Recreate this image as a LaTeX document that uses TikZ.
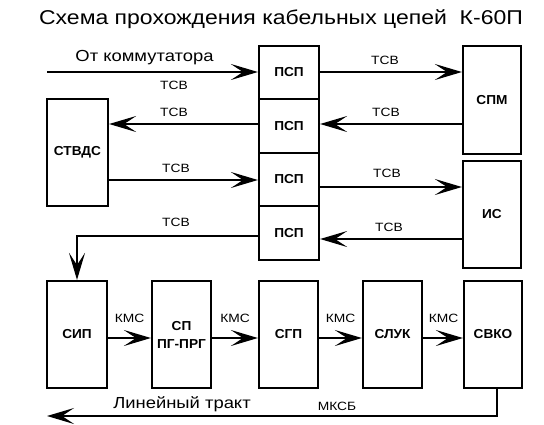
\documentclass[tikz,border=0pt]{standalone}
\usepackage{fontspec}
\setmainfont[FakeStretch=1.15]{Liberation Sans}
\newfontfamily\boxfont[FakeStretch=1.05]{Liberation Sans}
\usetikzlibrary{arrows.meta}
\begin{document}
\begin{tikzpicture}[x=1pt,y=-1pt,
  blk/.style={draw,line width=2.2pt,inner sep=0pt,font=\boxfont\bfseries\fontsize{13}{14}\selectfont,align=center},
  lbl/.style={font=\fontsize{12}{13}\selectfont,inner sep=0pt},
  big/.style={font=\fontsize{16}{17}\selectfont,inner sep=0pt},
  conn/.style={line width=2.4pt,-{Stealth[length=27pt,width=16pt,inset=12pt]}}]
\useasboundingbox (0,0) rectangle (544,424);
\node[font=\fontsize{20}{22}\selectfont,inner sep=0pt] (title) at (281,19) {Схема прохождения кабельных цепей\ \ К-60П};
% PSP column
\node[blk,minimum width=60pt,minimum height=53pt] (p1) at (289,72.5) {ПСП};
\node[blk,minimum width=60pt,minimum height=54pt] (p2) at (289,126) {ПСП};
\node[blk,minimum width=60pt,minimum height=53pt] (p3) at (289,179.5) {ПСП};
\node[blk,minimum width=60pt,minimum height=54pt] (p4) at (289,233) {ПСП};
\node[blk,minimum width=58pt,minimum height=108pt] (spm) at (492,100) {СПМ};
\node[blk,minimum width=58pt,minimum height=107pt] (is) at (492,214.5) {ИС};
\node[blk,minimum width=61pt,minimum height=107pt] (stv) at (77.5,152.5) {СТВДС};
% bottom row
\node[blk,minimum width=60pt,minimum height=107pt] (sip) at (77,334.5) {СИП};
\node[blk,minimum width=59pt,minimum height=107pt] (sp) at (181.5,334.5) {СП\\[4pt]ПГ-ПРГ};
\node[blk,minimum width=59pt,minimum height=107pt] (sgp) at (288.5,334.5) {СГП};
\node[blk,minimum width=59pt,minimum height=107pt] (sluk) at (392.5,334.5) {СЛУК};
\node[blk,minimum width=58pt,minimum height=107pt] (svko) at (493,334.5) {СВКО};
% labels
\node[big] (lk) at (144.5,58) {От коммутатора};
\node[lbl] (t1) at (174,85) {ТСВ};
\node[lbl] (t2) at (385,60) {ТСВ};
\node[lbl] (t3) at (174,112) {ТСВ};
\node[lbl] (t4) at (386,112) {ТСВ};
\node[lbl] (t5) at (176,168) {ТСВ};
\node[lbl] (t6) at (387,173) {ТСВ};
\node[lbl] (t7) at (176,222) {ТСВ};
\node[lbl] (t8) at (389,227) {ТСВ};
\node[lbl] (k1) at (129.5,318) {КМС};
\node[lbl] (k2) at (235,318) {КМС};
\node[lbl] (k3) at (340.5,318) {КМС};
\node[lbl] (k4) at (443.5,318) {КМС};
\node[big] (lt) at (182,404) {Линейный тракт};
\node[lbl] (mk) at (337,406) {МКСБ};
% connectors
\coordinate (in) at (47,72);
\draw[conn] (in) -- (in -| p1.west);
\draw[conn] (p1.east |- 0,72) -- (spm.west |- 0,72);
\draw[conn] (spm.west |- 0,124) -- (p2.east |- 0,124);
\draw[conn] (p2.west |- 0,124) -- (stv.east |- 0,124);
\draw[conn] (stv.east |- 0,180) -- (p3.west |- 0,180);
\draw[conn] (p3.east |- 0,187) -- (is.west |- 0,187);
\draw[conn] (is.west |- 0,239) -- (p4.east |- 0,239);
\draw[conn] (p4.west |- 0,236) -| (sip.north);
\draw[conn] (sip.east |- 0,338) -- (sp.west |- 0,338);
\draw[conn] (sp.east |- 0,338) -- (sgp.west |- 0,338);
\draw[conn] (sgp.east |- 0,338) -- (sluk.west |- 0,338);
\draw[conn] (sluk.east |- 0,338) -- (svko.west |- 0,338);
\coordinate (out) at (47,416);
\draw[conn] (svko.south -| 497,0) |- (out);
\end{tikzpicture}
\end{document}
